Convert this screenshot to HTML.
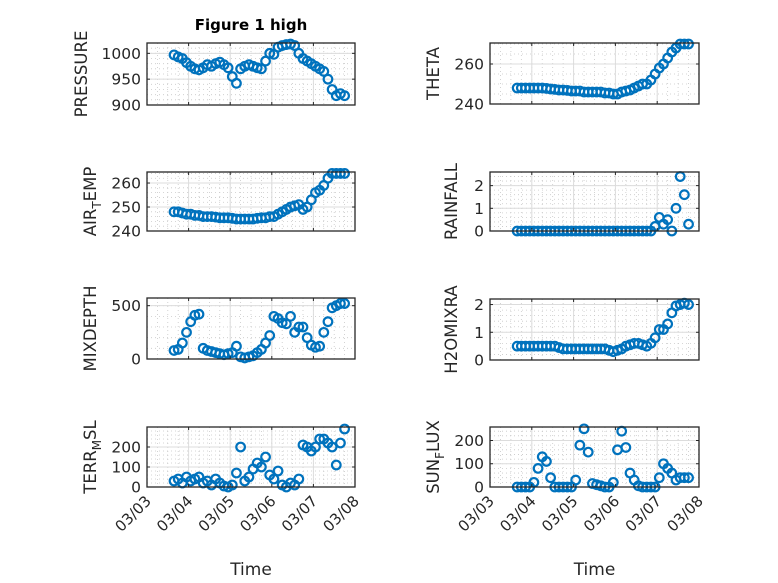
<!DOCTYPE html>
<html><head><meta charset="utf-8"><style>
html,body{margin:0;padding:0;background:#fff}
svg{display:block;font-family:"DejaVu Sans","Liberation Sans",sans-serif}
</style></head><body>
<svg id="fig" width="778" height="583" viewBox="0 0 778 583">
<text x="251" y="30" text-anchor="middle" font-size="15" font-weight="bold" fill="#000">Figure 1 high</text>
</svg>
<script>
const times=[3.65,3.75,3.85,3.95,4.05,4.15,4.25,4.35,4.45,4.55,4.65,4.75,4.85,4.95,5.05,5.15,5.25,5.35,5.45,5.55,5.65,5.75,5.85,5.95,6.05,6.15,6.25,6.35,6.45,6.55,6.65,6.75,6.85,6.95,7.05,7.15,7.25,7.35,7.45,7.55,7.65,7.75];
const xTickDays=[3,4,5,6,7,8];
const xTickLabels=["03/03","03/04","03/05","03/06","03/07","03/08"];
const pressure=[997,993,990,982,975,970,968,972,978,975,980,983,978,972,955,942,970,975,978,975,972,970,985,1000,998,1012,1015,1017,1018,1015,1000,990,985,980,975,970,965,950,930,918,922,918];
const theta=[248,248,248,248,248,248,248,247.8,247.5,247.3,247,247,246.8,246.5,246.5,246.5,246,246,246,246,246,245.5,245.5,245,245,246,246.5,247,248,249,250,250,252,255,258,260,263,266,268,270,270,270];
const airTemp=[248,248,247.5,247,247,246.5,246.5,246,246,246,245.8,245.5,245.5,245.5,245.3,245,245,245,245,245,245.3,245.5,245.5,246,246,247,248,249,250,250.5,251,249,250,253,256,257,259,262,264,264,264,264];
const rainfall=[0,0,0,0,0,0,0,0,0,0,0,0,0,0,0,0,0,0,0,0,0,0,0,0,0,0,0,0,0,0,0,0,0,0.2,0.6,0.3,0.5,0,1.0,2.4,1.6,0.3];
const mixDepth=[80,90,150,250,350,410,420,100,80,70,60,50,40,50,60,120,20,10,20,30,60,90,150,220,400,380,340,330,400,250,300,300,200,130,110,120,250,350,480,500,520,520];
const h2oMix=[0.5,0.5,0.5,0.5,0.5,0.5,0.5,0.5,0.5,0.5,0.45,0.4,0.4,0.4,0.4,0.4,0.4,0.4,0.4,0.4,0.4,0.4,0.35,0.3,0.35,0.4,0.5,0.55,0.6,0.6,0.55,0.5,0.6,0.8,1.1,1.1,1.3,1.7,1.95,2.0,2.05,2.0];
const terrMsl=[30,40,20,50,30,40,50,20,30,10,40,20,5,0,10,70,200,30,50,90,120,100,150,60,40,80,10,0,20,10,40,210,200,180,200,240,240,220,200,110,220,290];
const sunFlux=[0,0,0,0,20,80,130,110,40,0,0,0,0,0,30,180,250,150,15,10,5,0,0,20,160,240,170,60,30,5,0,0,0,0,40,100,80,60,30,40,40,40];

const pressureTicks=[900,950,1000], thetaTicks=[240,260], airTicks=[240,250,260], rainTicks=[0,1,2], mixTicks=[0,500], h2oTicks=[0,1,2], terrTicks=[0,100,200], sunTicks=[0,100,200];

const NS="http://www.w3.org/2000/svg";
const svg=document.getElementById('fig');
function mk(tag,attrs,parent){const e=document.createElementNS(NS,tag);for(const k in attrs)e.setAttribute(k,attrs[k]);(parent||svg).appendChild(e);return e;}

const panels=[
 {key:'pressure',x0:147,x1:355,y0:43,y1:105,ymin:900,ymax:1020,ticks:pressureTicks,minor:10,data:pressure,label:['PRESSURE']},
 {key:'theta',x0:490,x1:699,y0:43,y1:104,ymin:240,ymax:270.5,ticks:thetaTicks,minor:5,data:theta,label:['THETA']},
 {key:'air-temp',x0:147,x1:355,y0:172,y1:231,ymin:240,ymax:264.6,ticks:airTicks,minor:2,data:airTemp,label:['AIR','T','EMP']},
 {key:'rainfall',x0:490,x1:699,y0:172,y1:231,ymin:0,ymax:2.6,ticks:rainTicks,minor:0.2,data:rainfall,label:['RAINFALL']},
 {key:'mixdepth',x0:147,x1:355,y0:298,y1:359,ymin:0,ymax:572,ticks:mixTicks,minor:100,data:mixDepth,label:['MIXDEPTH']},
 {key:'h2omixra',x0:490,x1:699,y0:299,y1:360,ymin:0,ymax:2.2,ticks:h2oTicks,minor:0.2,data:h2oMix,label:['H2OMIXRA']},
 {key:'terr-msl',x0:147,x1:355,y0:427,y1:487,ymin:0,ymax:300,ticks:terrTicks,minor:20,data:terrMsl,label:['TERR','M','SL'],bottom:true},
 {key:'sun-flux',x0:490,x1:699,y0:427,y1:487,ymin:0,ymax:258,ticks:sunTicks,minor:20,data:sunFlux,label:['SUN','F','LUX'],bottom:true}
];

panels.forEach(p=>{
  const g=mk('g',{});
  
  
  const sx=d=>p.x0+(d-3)/5*(p.x1-p.x0);
  const sy=v=>p.y1-(v-p.ymin)/(p.ymax-p.ymin)*(p.y1-p.y0);
  for(let d=3;d<=8.001;d+=0.25){const x=sx(d);mk('line',{x1:x,x2:x,y1:p.y0,y2:p.y1,stroke:'#c8c8c8','stroke-width':0.8,'stroke-dasharray':'1,3'},g);}
  for(let v=Math.ceil(p.ymin/p.minor)*p.minor;v<=p.ymax;v+=p.minor){const y=sy(v);mk('line',{x1:p.x0,x2:p.x1,y1:y,y2:y,stroke:'#c8c8c8','stroke-width':0.8,'stroke-dasharray':'1,3'},g);}
  xTickDays.forEach(d=>{const x=sx(d);mk('line',{x1:x,x2:x,y1:p.y0,y2:p.y1,stroke:'#dcdcdc','stroke-width':1},g);});
  p.ticks.forEach(v=>{const y=sy(v);mk('line',{x1:p.x0,x2:p.x1,y1:y,y2:y,stroke:'#dcdcdc','stroke-width':1},g);});
  const dg=mk('g',{},g);
  
  
  p.data.forEach((v,i)=>{
    const c=mk('circle',{cx:sx(times[i]),cy:sy(v),r:4.3,fill:'none',stroke:'#0072BD','stroke-width':2.2},dg);
    
    
  });
  mk('rect',{x:p.x0,y:p.y0,width:p.x1-p.x0,height:p.y1-p.y0,fill:'none',stroke:'#262626','stroke-width':1.3},g);
  xTickDays.forEach((d,i)=>{const x=sx(d);
    mk('line',{x1:x,x2:x,y1:p.y1,y2:p.y1-3,stroke:'#262626','stroke-width':1},g);
    mk('line',{x1:x,x2:x,y1:p.y0,y2:p.y0+3,stroke:'#262626','stroke-width':1},g);
    if(p.bottom){const t=mk('text',{x:x+5,y:p.y1+15,'text-anchor':'end','font-size':15,fill:'#262626',transform:`rotate(-45 ${x+5} ${p.y1+15})`},g);t.textContent=xTickLabels[i];
      
      }
  });
  p.ticks.forEach(v=>{const y=sy(v);
    mk('line',{x1:p.x0,x2:p.x0+3,y1:y,y2:y,stroke:'#262626','stroke-width':1},g);
    mk('line',{x1:p.x1,x2:p.x1-3,y1:y,y2:y,stroke:'#262626','stroke-width':1},g);
    const t=mk('text',{x:p.x0-6,y:y+5.5,'text-anchor':'end','font-size':15.5,fill:'#262626'},g);t.textContent=v;
    
    
  });
  const chars=Math.max(...p.ticks.map(v=>String(v).length));
  const lx=p.x0-(chars*9+24), ly=(p.y0+p.y1)/2;
  const lt=mk('text',{x:lx,y:ly,'text-anchor':'middle','font-size':16.5,fill:'#262626',transform:`rotate(-90 ${lx} ${ly})`},g);
  
  
  if(p.label.length===1){lt.textContent=p.label[0];}
  else{
    const a=mk('tspan',{},lt);a.textContent=p.label[0];
    const b=mk('tspan',{'font-size':12,dy:5},lt);b.textContent=p.label[1];
    const c=mk('tspan',{dy:-5},lt);c.textContent=p.label[2];
  }
  if(p.bottom){
    const xt=mk('text',{x:(p.x0+p.x1)/2,y:575,'text-anchor':'middle','font-size':17,fill:'#262626'},g);xt.textContent='Time';
    
    
  }
});
</script>
</body></html>
